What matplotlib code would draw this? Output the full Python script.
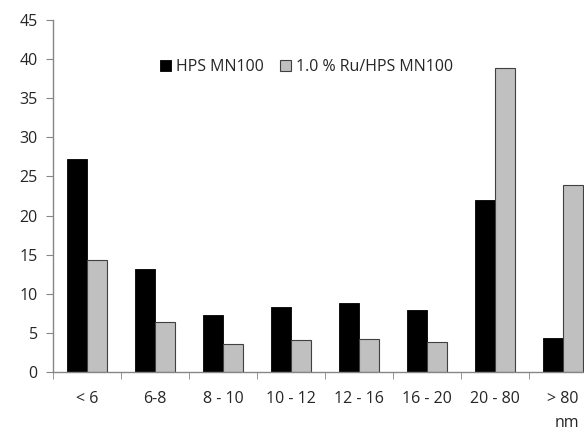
import matplotlib.pyplot as plt
import numpy as np

# Distribuição de tamanho de partícula (%)
categorias = ["< 6", "6-8", "8 - 10", "10 - 12", "12 - 16", "16 - 20", "20 - 80", "> 80"]
hps_mn100 = [27.2, 13.2, 7.3, 8.3, 8.8, 7.9, 22.0, 4.3]
ru_hps_mn100 = [14.3, 6.4, 3.6, 4.1, 4.2, 3.8, 38.9, 23.9]

plt.rcParams['font.family'] = ['Open Sans', 'DejaVu Sans']
cor_texto = "#262626"
cor_eixo = "#868686"
tam = 11.5

fig = plt.figure(figsize=(5.84, 4.32), dpi=100)
# eixo mais largo que a figura: a ultima categoria fica cortada como no original
ax = fig.add_axes([53 / 584, 60 / 432, 544 / 584, 352 / 432])

x = np.arange(len(categorias))
w = 0.287
ax.bar(x - w / 2, hps_mn100, w, color="black", edgecolor="black", linewidth=0.6, label="HPS MN100")
ax.bar(x + w / 2, ru_hps_mn100, w, color="#c0c0c0", edgecolor="#404040", linewidth=0.8,
       label="1.0 % Ru/HPS MN100")

ax.set_xlim(-0.5, len(categorias) - 0.5)
ax.set_ylim(0, 45)
ax.set_yticks(range(0, 46, 5))

ax.set_xticks(x)
ax.set_xticklabels(categorias)
ax.set_xticks(np.arange(-0.5, len(categorias)), minor=True)
ax.tick_params(axis="x", which="major", length=0, pad=14, labelsize=tam, labelcolor=cor_texto)
ax.tick_params(axis="x", which="minor", length=5, color=cor_eixo, direction="out")
ax.tick_params(axis="y", length=5, color=cor_eixo, labelsize=tam, labelcolor=cor_texto, pad=6)

for lado in ["top", "right"]:
    ax.spines[lado].set_visible(False)
for lado in ["left", "bottom"]:
    ax.spines[lado].set_color(cor_eixo)
    ax.spines[lado].set_linewidth(1)

leg = ax.legend(loc="upper left", bbox_to_anchor=(0.17, 0.93), ncol=2, frameon=False,
                handlelength=0.7, handleheight=0.7, handletextpad=0.3, columnspacing=1.0,
                fontsize=tam)
for t in leg.get_texts():
    t.set_color(cor_texto)

fig.text(567 / 584, 17 / 432, "nm", ha="center", va="top", fontsize=tam, color=cor_texto)

fig.savefig("out.png", dpi=100)
